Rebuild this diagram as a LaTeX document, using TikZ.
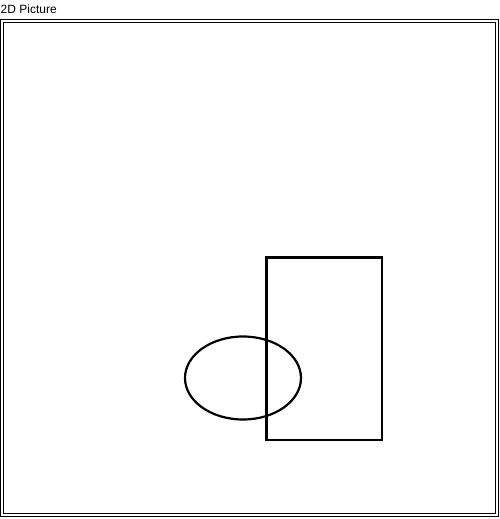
\documentclass[tikz,border=0pt]{standalone}
\usepackage{fontspec}
\setsansfont{Liberation Sans}
\usetikzlibrary{positioning}

\begin{document}
\begin{tikzpicture}[x=1pt,y=-1pt, line join=miter, font=\sffamily\fontsize{12}{14}\selectfont]
	\def\W{500} \def\H{519} % Kich thuoc
	\def\cx{243} \def\cy{378} \def\rx{58} \def\ry{41.5} % Ellipse
	\useasboundingbox (0,0) rectangle (\W,\H);
	\node[anchor=base west, inner sep=0pt] (title) at (0.5,13.5) {2D Picture};
	\draw[line width=1pt] (0.5,19.5) rectangle (498.5,516.5);
	\draw[line width=1pt] (3.5,22.5) rectangle (495.5,513.5);
	\draw[line width=2.2pt] (266.5,257.5) rectangle (382,440);
	\draw[line width=2.2pt] (\cx,\cy) ellipse [x radius=\rx, y radius=\ry];
\end{tikzpicture}
\end{document}
